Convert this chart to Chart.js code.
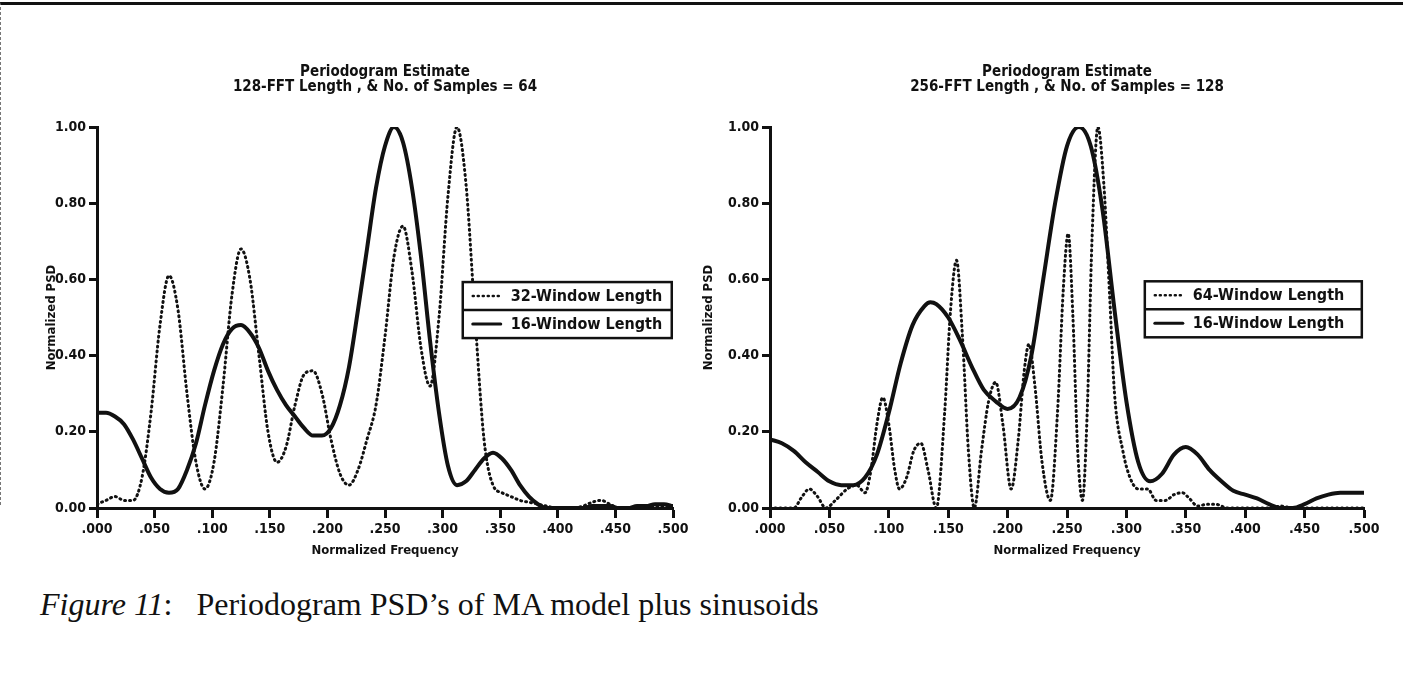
<!DOCTYPE html>
<html>
<head>
<meta charset="utf-8">
<title>Periodogram PSD</title>
<script src="https://cdn.jsdelivr.net/npm/chart.js@4.4.0/dist/chart.umd.min.js"></script>
<style>
  body { margin: 0; background: #fff; width: 1403px; height: 681px; overflow: hidden; position: relative; }
  #frame { position: absolute; left: 0; top: 2px; width: 1403px; height: 500px; border-top: 3px solid #111; border-left: 1px dashed #777; }
  .plot { position: absolute; top: 0; height: 580px; }
  #caption { position: absolute; left: 40px; top: 586px; font-family: 'Liberation Serif', 'Times New Roman', serif;
             font-size: 32px; color: #111; white-space: pre; }
</style>
</head>
<body>
<div id="frame"></div>
<div class="plot" style="left:0;width:700px"><canvas id="left" width="700" height="580"></canvas></div>
<div class="plot" style="left:700px;width:703px"><canvas id="right" width="703" height="580"></canvas></div>
<div id="caption"><i>Figure 11</i>:   Periodogram PSD’s of MA model plus sinusoids</div>

<script>
// ── Data: left plot (128-FFT, 64 samples), bins of 1/128 ─────────
const binsLeft = Array.from({ length: 65 }, (_, i) => i / 128);
const win32Left = [
  0.01, 0.02, 0.03, 0.02, 0.02, 0.08, 0.25, 0.48, 0.61, 0.52,
  0.30, 0.12, 0.05, 0.12, 0.32, 0.56, 0.68, 0.60, 0.40, 0.20,
  0.12, 0.16, 0.27, 0.35, 0.36, 0.30, 0.18, 0.09, 0.06, 0.10,
  0.18, 0.27, 0.45, 0.66, 0.74, 0.62, 0.42, 0.32, 0.50, 0.82,
  1.00, 0.85, 0.50, 0.18, 0.06, 0.04, 0.03, 0.02, 0.015, 0.01,
  0.005, 0, 0, 0, 0.005, 0.015, 0.02, 0.01, 0, 0,
  0, 0.005, 0.005, 0.005, 0.005
];
const win16Left = [
  0.25, 0.25, 0.24, 0.22, 0.18, 0.13, 0.08, 0.05, 0.04, 0.05,
  0.10, 0.17, 0.27, 0.36, 0.43, 0.47, 0.48, 0.46, 0.42, 0.36,
  0.31, 0.27, 0.24, 0.21, 0.19, 0.19, 0.21, 0.27, 0.37, 0.52,
  0.68, 0.84, 0.95, 1.00, 0.96, 0.84, 0.66, 0.44, 0.25, 0.11,
  0.06, 0.07, 0.10, 0.13, 0.145, 0.13, 0.10, 0.06, 0.03, 0.01,
  0, 0, 0, 0, 0, 0.005, 0.005, 0.005, 0, 0,
  0.005, 0.005, 0.01, 0.01, 0.005
];

// ── Data: right plot (256-FFT, 128 samples) ──────────────────────
const freq64Right = [
  0, 0.02, 0.027, 0.033, 0.04, 0.047, 0.055, 0.065, 0.073, 0.08,
  0.085, 0.09, 0.095, 0.10, 0.105, 0.109, 0.115, 0.121, 0.127, 0.133,
  0.14, 0.147, 0.152, 0.157, 0.162, 0.167, 0.172, 0.178, 0.184, 0.19,
  0.196, 0.203, 0.209, 0.214, 0.218, 0.223, 0.229, 0.236, 0.242, 0.247,
  0.251, 0.255, 0.259, 0.263, 0.267, 0.271, 0.276, 0.281, 0.286, 0.29,
  0.297, 0.303, 0.31, 0.318, 0.325, 0.333, 0.34, 0.347, 0.353, 0.36,
  0.368, 0.375, 0.385, 0.42, 0.43, 0.44, 0.5
];
const win64Right = [
  0, 0, 0.03, 0.05, 0.03, 0, 0.02, 0.05, 0.06, 0.04,
  0.10, 0.22, 0.29, 0.22, 0.10, 0.05, 0.08, 0.15, 0.17, 0.10,
  0, 0.25, 0.52, 0.65, 0.45, 0.15, 0, 0.15, 0.28, 0.33,
  0.22, 0.05, 0.18, 0.36, 0.43, 0.32, 0.12, 0.02, 0.25, 0.58,
  0.72, 0.50, 0.15, 0.02, 0.25, 0.70, 1.00, 0.85, 0.55, 0.30,
  0.15, 0.08, 0.05, 0.05, 0.02, 0.02, 0.035, 0.04, 0.025, 0.005,
  0.01, 0.01, 0, 0, 0.005, 0, 0
];
const freq16Right = [
  0, 0.01, 0.02, 0.03, 0.04, 0.05, 0.06, 0.07, 0.08, 0.09,
  0.10, 0.11, 0.12, 0.13, 0.135, 0.14, 0.15, 0.16, 0.17, 0.18,
  0.19, 0.20, 0.21, 0.22, 0.23, 0.24, 0.25, 0.26, 0.27, 0.28,
  0.29, 0.30, 0.31, 0.32, 0.33, 0.34, 0.35, 0.36, 0.37, 0.38,
  0.39, 0.40, 0.41, 0.42, 0.43, 0.44, 0.45, 0.46, 0.47, 0.48,
  0.49, 0.50
];
const win16Right = [
  0.18, 0.17, 0.15, 0.12, 0.095, 0.07, 0.06, 0.06, 0.08, 0.14,
  0.25, 0.38, 0.48, 0.53, 0.54, 0.535, 0.50, 0.44, 0.37, 0.31,
  0.28, 0.26, 0.29, 0.40, 0.60, 0.80, 0.95, 1.00, 0.95, 0.78,
  0.52, 0.28, 0.12, 0.07, 0.09, 0.14, 0.16, 0.14, 0.10, 0.07,
  0.045, 0.035, 0.025, 0.01, 0, 0, 0.01, 0.025, 0.035, 0.04,
  0.04, 0.04
];

// ── Shared style ─────────────────────────────────────────────────
const INK = '#111';
const FONT = "'DejaVu Sans Condensed', 'Liberation Sans Narrow', 'DejaVu Sans', sans-serif";
const DOTS = [1, 4];

const pts = (xs, ys) => xs.map((x, i) => ({ x, y: ys[i] }));

function dotted(label, data) {
  return { label, data, borderColor: INK, borderWidth: 3, borderDash: DOTS, borderCapStyle: 'round',
           pointRadius: 0, cubicInterpolationMode: 'monotone', fill: false };
}
function solid(label, data) {
  return { label, data, borderColor: INK, borderWidth: 4, borderCapStyle: 'round', borderJoinStyle: 'round',
           pointRadius: 0, cubicInterpolationMode: 'monotone', fill: false };
}

// ── Boxed legend drawn inside the plot ───────────────────────────
const boxLegend = {
  id: 'boxLegend',
  afterDatasetsDraw(chart, args, opts) {
    const { ctx, chartArea: a } = chart;
    const sets = chart.data.datasets;
    const x = a.left + opts.left * a.width;
    const y = a.top + opts.top * a.height;
    const w = opts.width, h = opts.rowHeight;
    ctx.save();
    ctx.fillStyle = '#fff';
    ctx.fillRect(x, y, w, h * sets.length);
    ctx.strokeStyle = INK;
    ctx.lineWidth = 2.5;
    ctx.strokeRect(x, y, w, h * sets.length);
    for (let i = 1; i < sets.length; i++) {
      ctx.beginPath(); ctx.moveTo(x, y + h * i); ctx.lineTo(x + w, y + h * i); ctx.stroke();
    }
    ctx.font = 'bold 16px ' + FONT;
    ctx.textBaseline = 'middle';
    sets.forEach((ds, i) => {
      const cy = y + h * i + h / 2;
      ctx.setLineDash(ds.borderDash || []);
      ctx.lineCap = 'round';
      ctx.lineWidth = ds.borderDash ? 2.5 : 3;
      ctx.beginPath(); ctx.moveTo(x + 10, cy); ctx.lineTo(x + 38, cy); ctx.stroke();
      ctx.setLineDash([]);
      ctx.fillStyle = INK;
      ctx.fillText(ds.label, x + 48, cy + 1);
    });
    ctx.restore();
  }
};

// ── Chart factory ────────────────────────────────────────────────
function periodogram(id, title, datasets, box) {
  new Chart(document.getElementById(id), {
    type: 'line',
    data: { datasets },
    plugins: [boxLegend],
    options: {
      responsive: false,
      animation: false,
      layout: { padding: { left: 0, right: box.padRight, top: 0, bottom: 0 } },
      plugins: {
        legend: { display: false },
        tooltip: { enabled: false },
        title: {
          display: true, text: title, fullSize: false, color: INK,
          font: { family: FONT, size: 15, weight: 'bold', lineHeight: 1.0 },
          padding: { top: 65, bottom: 32 }
        },
        boxLegend: box.legend
      },
      scales: {
        x: {
          type: 'linear', min: 0, max: 0.5,
          afterFit: s => { s.height = 72; },
          ticks: { stepSize: 0.05, color: INK, padding: 3, maxRotation: 0,
                   font: { family: FONT, size: 14, weight: 'bold' },
                   callback: v => v.toFixed(3).slice(1) },
          grid: { drawOnChartArea: false, drawTicks: true, tickLength: 10, tickWidth: 3, color: INK },
          border: { display: true, width: 3, color: INK },
          title: { display: true, text: 'Normalized Frequency', color: INK, padding: { top: 0, bottom: 22 },
                   font: { family: FONT, size: 13, weight: 'bold' } }
        },
        y: {
          min: 0, max: 1,
          afterFit: s => { s.width = box.axisWidth; },
          ticks: { stepSize: 0.2, color: INK, padding: 3,
                   font: { family: FONT, size: 14, weight: 'bold' },
                   callback: v => v.toFixed(2) },
          grid: { drawOnChartArea: false, drawTicks: true, tickLength: 8, tickWidth: 3, color: INK },
          border: { display: true, width: 3, color: INK },
          title: { display: true, text: 'Normalized PSD', color: INK, padding: { top: box.yTitlePad, bottom: 0 },
                   font: { family: FONT, size: 13, weight: 'bold' } }
        }
      }
    }
  });
}

periodogram('left',
  ['Periodogram Estimate', '128-FFT Length , & No. of Samples = 64'],
  [dotted('32-Window Length', pts(binsLeft, win32Left)),
   solid('16-Window Length', pts(binsLeft, win16Left))],
  { padRight: 27, axisWidth: 97, yTitlePad: 44,
    legend: { left: 0.635, top: 0.407, width: 209, rowHeight: 28 } });

periodogram('right',
  ['Periodogram Estimate', '256-FFT Length , & No. of Samples = 128'],
  [dotted('64-Window Length', pts(freq64Right, win64Right)),
   solid('16-Window Length', pts(freq16Right, win16Right))],
  { padRight: 39, axisWidth: 70, yTitlePad: 1,
    legend: { left: 0.631, top: 0.405, width: 217, rowHeight: 28 } });
</script>
</body>
</html>
